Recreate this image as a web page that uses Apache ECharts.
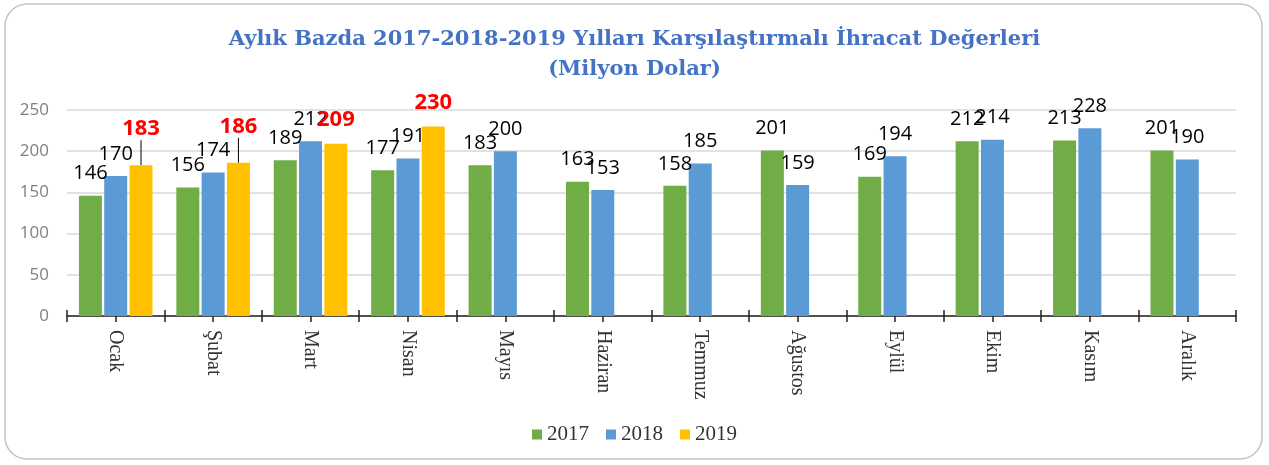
<!DOCTYPE html>
<html>
<head>
<meta charset="utf-8">
<script src="https://cdn.jsdelivr.net/npm/echarts@6/dist/echarts.min.js"></script>
<style>
    html, body { margin: 0; padding: 0; background: #fff; }
    #ihracat_chart { width: 1269px; height: 465px; }
</style>
</head>
<body>
<div id="ihracat_chart"></div>
<script>
const months = ['Ocak', 'Şubat', 'Mart', 'Nisan', 'Mayıs', 'Haziran', 'Temmuz', 'Ağustos', 'Eylül', 'Ekim', 'Kasım', 'Aralık'];
const values2017 = [146, 156, 189, 177, 183, 163, 158, 201, 169, 212, 213, 201];
const values2018 = [170, 174, 212, 191, 200, 153, 185, 159, 194, 214, 228, 190];
const values2019 = [183, 186, 209, 230, null, null, null, null, null, null, null, null];
const yTicks = [0, 50, 100, 150, 200, 250];

// helper axis: one slot per half month so ticks fall on boundaries and centers
const halfSlots = months.flatMap(() => ['', '']);

let chart = echarts.init(document.getElementById('ihracat_chart'));

const numLabel = {
    show: true,
    position: 'top',
    distance: 12,
    color: '#000',
    fontSize: 20,
    fontFamily: 'Open Sans'
};

const titleStyle = {
    color: '#4472C4',
    fontSize: 21,
    fontWeight: 'bold',
    fontFamily: 'DejaVu Serif'
};

// Ocak and Şubat labels sit higher with a small leader line
const data2019 = values2019.map((v, i) => i < 2
    ? { value: v, labelLine: { show: true } }
    : v);

const option = {
    animation: false,
    title: [
        { text: 'Aylık Bazda 2017-2018-2019 Yılları Karşılaştırmalı İhracat Değerleri', left: 'center', top: 24, textStyle: titleStyle },
        { text: '(Milyon Dolar)', left: 'center', top: 54, textStyle: titleStyle }
    ],
    graphic: [{
        type: 'rect',
        shape: { x: 5, y: 4, width: 1257, height: 455, r: 22 },
        style: { fill: 'none', stroke: '#c4c4c4', lineWidth: 1.5 },
        silent: true
    }],
    legend: {
        bottom: 15,
        left: 'center',
        itemWidth: 10,
        itemHeight: 10,
        itemGap: 17,
        icon: 'rect',
        textStyle: { fontSize: 21, fontFamily: 'Liberation Serif', color: '#333' },
        data: ['2017', '2018', '2019']
    },
    grid: { left: 67, right: 33, top: 110, bottom: 149 },
    xAxis: [
        {
            type: 'category',
            data: months,
            axisLine: { lineStyle: { color: '#222', width: 1.5 } },
            axisTick: { show: false },
            axisLabel: {
                rotate: -90,
                interval: 0,
                margin: 14,
                color: '#333',
                fontSize: 20,
                fontFamily: 'Liberation Serif'
            }
        },
        {
            type: 'category',
            data: halfSlots,
            position: 'bottom',
            axisLine: { show: false },
            axisLabel: { show: false },
            axisTick: { show: true, interval: 0, length: 6, lineStyle: { color: '#222', width: 1.5 } }
        },
        {
            type: 'category',
            data: halfSlots,
            position: 'bottom',
            axisLine: { show: false },
            axisLabel: { show: false },
            axisTick: { show: true, inside: true, interval: 0, length: 6, lineStyle: { color: '#222', width: 1.5 } }
        }
    ],
    yAxis: {
        type: 'value',
        min: yTicks[0],
        max: yTicks[yTicks.length - 1],
        interval: 50,
        axisLine: { show: false },
        axisTick: { show: false },
        axisLabel: { color: '#808080', fontSize: 17, fontFamily: 'Open Sans', margin: 18 },
        splitLine: { lineStyle: { color: '#d9d9d9', width: 1.5 } }
    },
    series: [
        {
            name: '2017',
            type: 'bar',
            data: values2017,
            barWidth: 23,
            barGap: '10%',
            itemStyle: { color: '#70AD47' },
            label: numLabel
        },
        {
            name: '2018',
            type: 'bar',
            data: values2018,
            barWidth: 23,
            barGap: '10%',
            itemStyle: { color: '#5B9BD5' },
            label: numLabel
        },
        {
            name: '2019',
            type: 'bar',
            data: data2019,
            barWidth: 23,
            barGap: '10%',
            itemStyle: { color: '#FFC000' },
            label: {
                show: true,
                position: 'top',
                distance: 13,
                color: '#FF0000',
                fontSize: 22,
                fontWeight: 'bold',
                fontFamily: 'Open Sans'
            },
            labelLine: { show: false, lineStyle: { color: '#000', width: 1 } },
            labelLayout: function (params) {
                return params.dataIndex < 2 ? { dy: -12 } : {};
            }
        }
    ]
};

chart.setOption(option);
window.addEventListener('resize', function () {
    chart.resize();
});
</script>
</body>
</html>
